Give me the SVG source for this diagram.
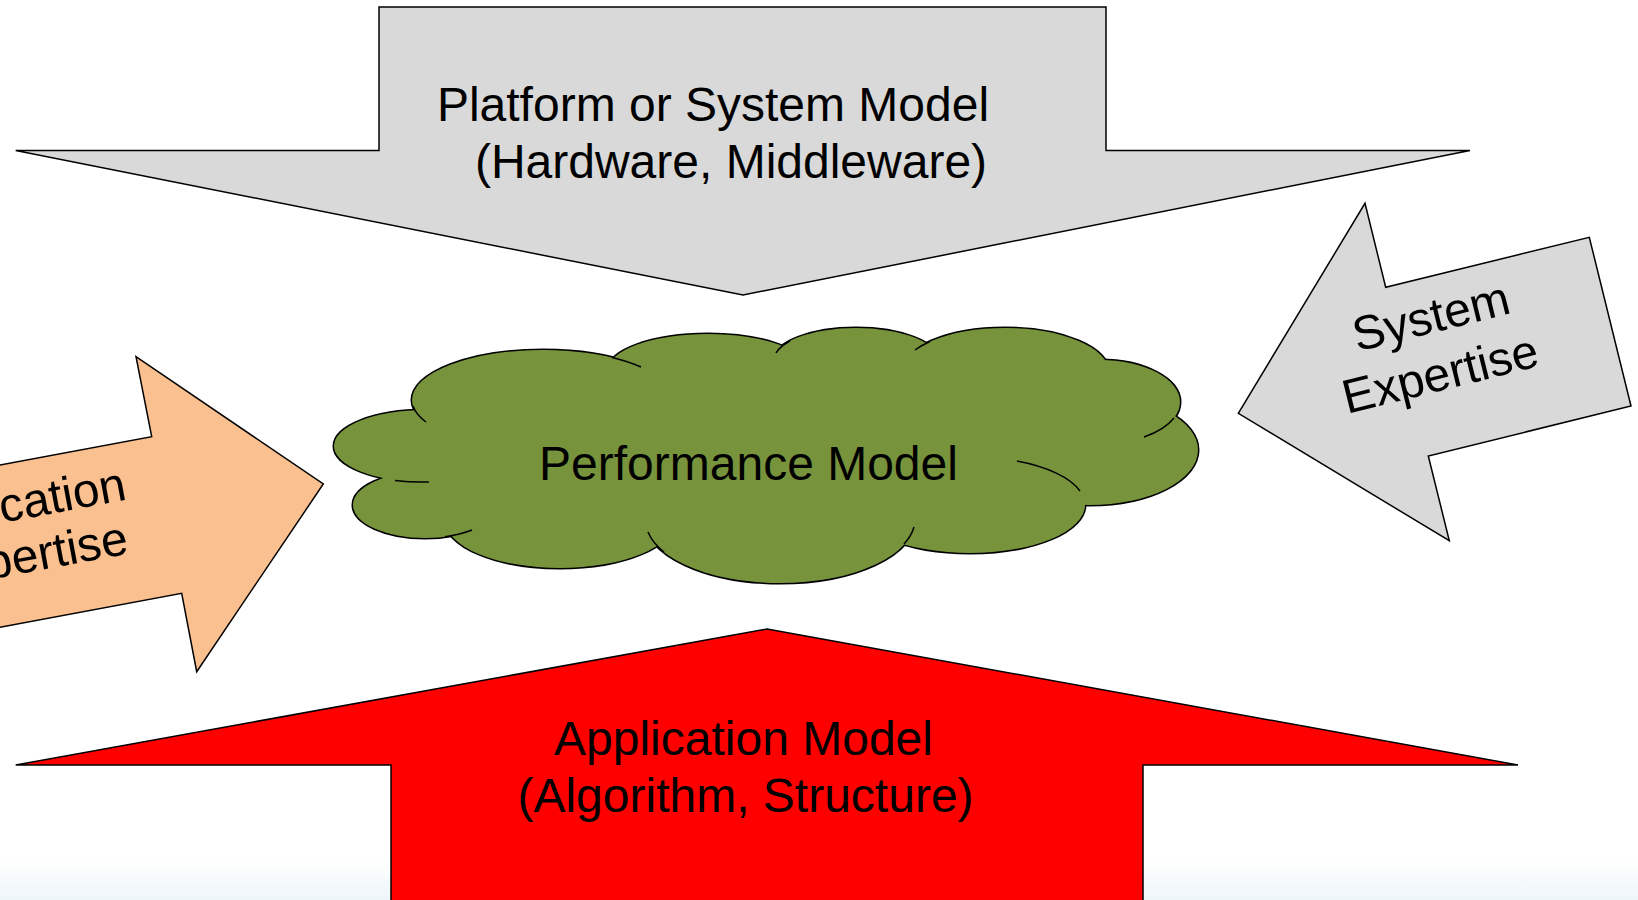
<svg xmlns="http://www.w3.org/2000/svg" width="1638" height="900" viewBox="0 0 1638 900">
  <defs>
    <linearGradient id="bg" x1="0" y1="0" x2="0" y2="1">
      <stop offset="0" stop-color="#ffffff"/>
      <stop offset="1" stop-color="#eef5f9"/>
    </linearGradient>
    <style>
      .arrow { stroke: #000; stroke-width: 1.5; stroke-linejoin: miter; }
      .lbl { font-family: "Liberation Sans", Arial, sans-serif; font-size: 48px; fill: #000; }
      .mid { text-anchor: middle; }
      .end { text-anchor: end; }
      .lobeS { fill: #77933c; stroke: #000; stroke-width: 3; }
      .lobeF { fill: #77933c; stroke: none; }
      .tail { fill: none; stroke: #000; stroke-width: 1.5; }
    </style>
  </defs>
  <rect x="0" y="0" width="1638" height="900" fill="#ffffff"/>
  <rect x="0" y="860" width="1638" height="40" fill="url(#bg)"/>

  <g id="platform-model">
    <polygon class="arrow" fill="#d9d9d9" points="379,7 1106,7 1106,150.5 1470,150.5 743,295 15.7,150.5 379,150.5"/>
    <text class="lbl mid" x="713" y="121">Platform or System Model</text>
    <text class="lbl mid" x="731" y="178">(Hardware, Middleware)</text>
  </g>

  <g id="application-model">
    <polygon class="arrow" fill="#ff0000" points="767,629 1518,765 1143,765 1143,905 391,905 391,765 15.7,765"/>
    <text class="lbl mid" x="743.5" y="755">Application Model</text>
    <text class="lbl mid" x="745.5" y="812">(Algorithm, Structure)</text>
  </g>

  <g id="application-expertise">
    <polygon class="arrow" fill="#fac090" points="-100,483.7 151.7,436.7 136,356.7 323.3,484 196.7,671.7 181.7,593.3 -100,646"/>
    <g transform="translate(128,499.3) rotate(-10.6)">
      <text class="lbl end" x="0" y="0">Application</text>
      <text class="lbl end" x="-8" y="53.4">Expertise</text>
    </g>
  </g>

  <g id="system-expertise">
    <polygon class="arrow" fill="#d9d9d9" points="1238.3,413.3 1365,203.3 1385.7,287.3 1589.3,237.3 1631,406 1428.3,456 1449.3,540.7"/>
    <g transform="translate(1435,332.3) rotate(-14)">
      <text class="lbl mid" x="0" y="0">System</text>
      <text class="lbl mid" x="-5" y="58">Expertise</text>
    </g>
  </g>

  <g id="performance-model">
    <g>
      <ellipse class="lobeS" cx="425" cy="446" rx="91" ry="36"/>
      <ellipse class="lobeS" cx="425" cy="505" rx="72" ry="33"/>
      <ellipse class="lobeS" cx="543" cy="400" rx="131" ry="50"/>
      <ellipse class="lobeS" cx="708" cy="370" rx="100" ry="36"/>
      <ellipse class="lobeS" cx="856" cy="360" rx="82" ry="32"/>
      <ellipse class="lobeS" cx="1005" cy="372" rx="104" ry="44"/>
      <ellipse class="lobeS" cx="1100" cy="402" rx="80" ry="42"/>
      <ellipse class="lobeS" cx="1090" cy="450" rx="108" ry="55"/>
      <ellipse class="lobeS" cx="970" cy="505" rx="115" ry="48"/>
      <ellipse class="lobeS" cx="780" cy="520" rx="135" ry="63"/>
      <ellipse class="lobeS" cx="560" cy="520" rx="115" ry="48"/>
    </g>
    <g>
      <ellipse class="lobeF" cx="425" cy="446" rx="91" ry="36"/>
      <ellipse class="lobeF" cx="425" cy="505" rx="72" ry="33"/>
      <ellipse class="lobeF" cx="543" cy="400" rx="131" ry="50"/>
      <ellipse class="lobeF" cx="708" cy="370" rx="100" ry="36"/>
      <ellipse class="lobeF" cx="856" cy="360" rx="82" ry="32"/>
      <ellipse class="lobeF" cx="1005" cy="372" rx="104" ry="44"/>
      <ellipse class="lobeF" cx="1100" cy="402" rx="80" ry="42"/>
      <ellipse class="lobeF" cx="1090" cy="450" rx="108" ry="55"/>
      <ellipse class="lobeF" cx="970" cy="505" rx="115" ry="48"/>
      <ellipse class="lobeF" cx="780" cy="520" rx="135" ry="63"/>
      <ellipse class="lobeF" cx="560" cy="520" rx="115" ry="48"/>
      <polygon class="lobeF" points="418,412 615,360 782,352 920,348 1100,368 1168,420 1080,500 908,540 655,540 455,530 382,480"/>
    </g>
    <g>
      <path class="tail" d="M 395 480.5 A 91 36 0 0 0 429 482"/>
      <path class="tail" d="M 445 536.7 A 72 33 0 0 0 472 530"/>
      <path class="tail" d="M 612 357.5 A 131 50 0 0 1 641 367"/>
      <path class="tail" d="M 790 341 A 82 32 0 0 0 776 353"/>
      <path class="tail" d="M 930 341.5 A 104 44 0 0 0 915 350"/>
      <path class="tail" d="M 1174 418 A 80 42 0 0 1 1144 437"/>
      <path class="tail" d="M 1080 491 A 115 48 0 0 0 1017 461"/>
      <path class="tail" d="M 904 544 A 135 63 0 0 0 914 527"/>
      <path class="tail" d="M 664 552 A 135 63 0 0 1 648 532"/>
      <path class="tail" d="M 413 406 A 131 50 0 0 0 426 422"/>
    </g>
    <text class="lbl mid" x="748.5" y="480">Performance Model</text>
  </g>
</svg>
